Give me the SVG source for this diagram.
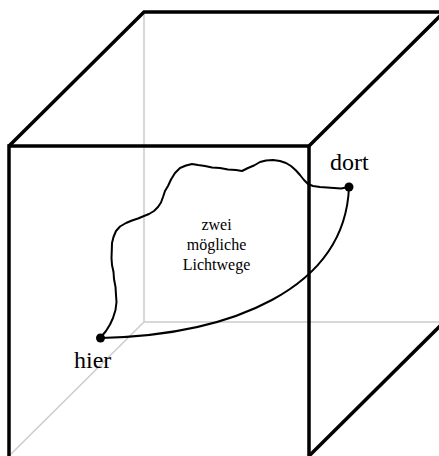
<svg xmlns="http://www.w3.org/2000/svg" width="439" height="456" viewBox="0 0 439 456">
<style>
.bg{fill:#fff}
.hid{fill:none;stroke:#cccccc;stroke-width:1.5}
.edge{fill:none;stroke:#000;stroke-width:3.5;stroke-linejoin:miter;stroke-linecap:butt}
.path{fill:none;stroke:#000;stroke-width:2;stroke-linejoin:round;stroke-linecap:round}
.dot{fill:#000}
.lbl{font-family:"Liberation Serif","Times New Roman",serif;font-size:24px;fill:#000}
.mid{font-family:"Liberation Serif","Times New Roman",serif;font-size:16px;fill:#000;text-anchor:middle}
</style>
<rect class="bg" x="0" y="0" width="439" height="456"/>
<g id="cube-hidden">
<path class="hid" d="M144,12 V322 H444 M144,322 L9,456"/>
</g>
<g id="cube">
<path class="edge" d="M9,146 L144,12 H444 L309,146"/>
<path class="edge" d="M9,460 V146 H309 V460"/>
<path class="edge" d="M309,456 L444,322"/>
</g>
<g id="connectors">
<path class="path" d="M101,338 C230,335 345,290 349,187"/>
<polyline class="path" points="101,337 106,331 110,324.5 113,318 115.5,310 116.5,302 116,295 115.5,287 114,279 113.5,272 112,265 111.5,258 111.8,250 112,243 113.5,237 116,231 120,226.5 126,223 132,220.5 138,218.5 144,216 149,214 154,211 158,207 161,202.5 163,197 165,191 168,186 171,179.5 175,173 180,168 186,165.5 192,164 198,165 205,166 212,167.5 220,168 228,169.5 236,170 242,171 248,168 254,165.5 260,162 266,160.5 273,160 280,161 286,163 291,166 296,170.5 300,175 304,180 308,184 313,186 320,187 327,187.5 334,188 341,188.5 349,187"/>
</g>
<g id="hier">
<circle class="dot" cx="100.5" cy="338" r="4.5"/>
<text class="lbl" x="74" y="368">hier</text>
</g>
<g id="dort">
<circle class="dot" cx="349" cy="187" r="4.5"/>
<text class="lbl" x="330" y="170">dort</text>
</g>
<g id="label">
<text class="mid" x="216.5" y="230">zwei</text>
<text class="mid" x="216.5" y="250">mögliche</text>
<text class="mid" x="216.5" y="270">Lichtwege</text>
</g>
</svg>
